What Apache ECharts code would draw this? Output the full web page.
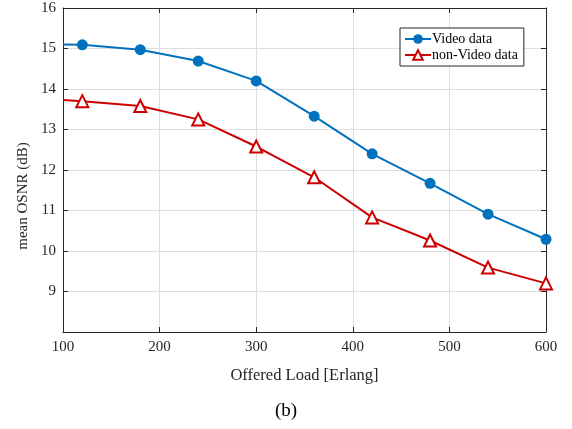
<!DOCTYPE html>
<html>
<head>
<meta charset="utf-8">
<script src="https://cdn.jsdelivr.net/npm/echarts@6/dist/echarts.min.js"></script>
<style>html,body{margin:0;padding:0;background:#fff}#c{width:572px;height:429px}</style>
</head>
<body>
<div id="c"></div>
<script>
const load = [100, 120, 180, 240, 300, 360, 420, 480, 540, 600];
const videoData = [15.10, 15.09, 14.97, 14.69, 14.20, 13.33, 12.40, 11.67, 10.91, 10.29];
const nonVideoData = [13.73, 13.70, 13.58, 13.25, 12.58, 11.82, 10.83, 10.26, 9.59, 9.20];
const seriesNames = ['Video data', 'non-Video data'];

const font = 'Liberation Serif, Times New Roman, serif';
function pts(ys) {
  return load.map((x, i) => ({
    value: [x, ys[i]],
    symbol: i === 0 ? 'none' : undefined
  }));
}
const chart = echarts.init(document.getElementById('c'), null, {renderer: 'canvas'});
const axisCommon = {
  axisLine: {show: true, onZero: false, lineStyle: {color: '#262626', width: 1}},
  axisTick: {show: true, inside: true, length: 5, lineStyle: {color: '#262626'}},
  splitLine: {show: false}
};
chart.setOption({
  animation: false,
  backgroundColor: '#fff',
  title: {
    text: '(b)', left: 'center', top: 397,
    textStyle: {fontFamily: font, fontSize: 19, fontWeight: 'normal', color: '#000'}
  },
  grid: {left: 63, right: 26, top: 8, bottom: 97},
  legend: {
    orient: 'vertical', left: 400, top: 28,
    data: seriesNames,
    backgroundColor: '#fff', borderColor: '#262626', borderWidth: 1,
    padding: [4, 6, 4, 4], itemGap: 2, itemWidth: 26, itemHeight: 12,
    textStyle: {fontFamily: font, fontSize: 14, color: '#000', padding: [0, 0, 0, -4]}
  },
  xAxis: [{
    type: 'value', min: 100, max: 600, interval: 100,
    name: 'Offered Load [Erlang]', nameLocation: 'middle', nameGap: 35,
    nameTextStyle: {fontFamily: font, fontSize: 16.5, color: '#262626'},
    axisLabel: {fontFamily: font, fontSize: 15, color: '#262626', margin: 8},
    ...axisCommon,
    splitLine: {show: true, lineStyle: {color: '#dedede', width: 1}}
  }, {
    type: 'value', min: 100, max: 600, interval: 100, position: 'top',
    axisLabel: {show: false}, ...axisCommon
  }],
  yAxis: [{
    type: 'value', min: 8, max: 16, interval: 1,
    name: 'mean OSNR (dB)', nameLocation: 'middle', nameGap: 31,
    nameTextStyle: {fontFamily: font, fontSize: 15, color: '#262626', padding: [0, 52, 0, 0]},
    axisLabel: {fontFamily: font, fontSize: 15, color: '#262626', margin: 7,
      formatter: v => v === 8 ? '' : String(v)},
    ...axisCommon,
    splitLine: {show: true, lineStyle: {color: '#dedede', width: 1}}
  }, {
    type: 'value', min: 8, max: 16, interval: 1, position: 'right',
    axisLabel: {show: false}, ...axisCommon
  }],
  series: [{
    name: seriesNames[0], type: 'line', data: pts(videoData),
    symbol: 'circle', symbolSize: 11,
    lineStyle: {color: '#0072BD', width: 2},
    itemStyle: {color: '#0072BD'}
  }, {
    name: seriesNames[1], type: 'line', data: pts(nonVideoData),
    symbol: 'triangle', symbolSize: 12,
    lineStyle: {color: '#CC0000', width: 2},
    itemStyle: {color: '#fff', borderColor: '#CC0000', borderWidth: 2}
  }]
});
</script>
</body>
</html>
